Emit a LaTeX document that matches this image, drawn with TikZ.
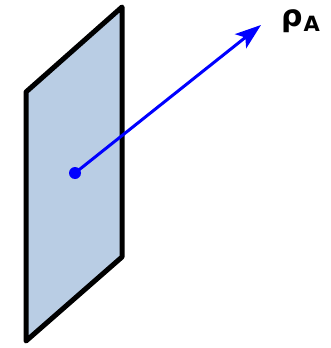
\documentclass[tikz,border=0pt]{standalone}
\usepackage{fontspec}
\setmainfont{DejaVu Sans}
\usetikzlibrary{arrows.meta}
\definecolor{planefill}{RGB}{185,205,228}
\tikzset{
  plane/.style={draw=black, line width=5pt, line join=round, fill=planefill},
  vec/.style={draw=blue, line width=3pt, -{Stealth[length=26pt,width=18pt,inset=6pt]}},
  dotmark/.style={circle, fill=blue, inner sep=0pt, minimum size=12pt},
  lbl/.style={inner sep=0pt, font=\fontsize{30}{34}\selectfont\bfseries}
}
\begin{document}
\begin{tikzpicture}[x=1pt,y=-1pt]
\useasboundingbox (0,0) rectangle (330,348);
\coordinate (p1) at (122,7);
\coordinate (p2) at (26,92);
\coordinate (p3) at (26,341);
\coordinate (p4) at (122,257);
\draw[plane] (p1) -- (p2) -- (p3) -- (p4) -- cycle;
\node[dotmark] (o) at (75,173) {};
\coordinate (tip) at (261,25);
\draw[vec] (o.center) -- (tip);
\node[lbl, anchor=base west] (rho) at (281,27) {ρ\kern1pt\raisebox{-5pt}{\fontsize{21}{24}\selectfont A}};
\end{tikzpicture}
\end{document}
